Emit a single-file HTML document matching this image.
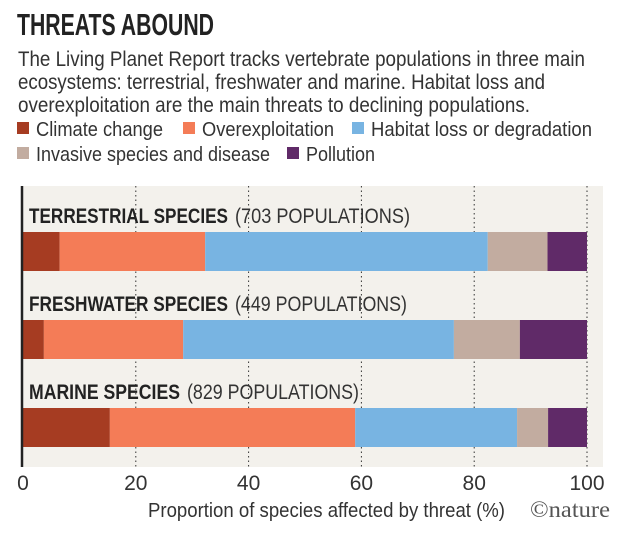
<!DOCTYPE html>
<html><head><meta charset="utf-8"><style>
html,body{margin:0;padding:0;background:#fff;}
svg{display:block;font-family:"Liberation Sans Narrow","Liberation Sans",sans-serif;}
</style></head><body>
<svg id="chart" width="630" height="535" viewBox="0 0 630 535">
<text x="17" y="35" font-size="31" font-weight="bold" fill="#222" textLength="197" lengthAdjust="spacingAndGlyphs">THREATS ABOUND</text>
<g font-size="21" fill="#333">
<text x="18" y="66" textLength="567" lengthAdjust="spacingAndGlyphs">The Living Planet Report tracks vertebrate populations in three main</text>
<text x="18" y="89" textLength="527" lengthAdjust="spacingAndGlyphs">ecosystems: terrestrial, freshwater and marine. Habitat loss and</text>
<text x="18" y="112" textLength="512" lengthAdjust="spacingAndGlyphs">overexploitation are the main threats to declining populations.</text>
</g>
<g id="legend" font-size="20.5" fill="#333"></g>
<rect x="23" y="186" width="580" height="281" fill="#f3f1ec"/>
<g id="grid"></g>
<g id="bars"></g>
<line x1="22" y1="186" x2="22" y2="467" stroke="#222" stroke-width="2.5"/>
<g id="ticks" font-size="21" fill="#333"></g>
<text x="148" y="517" font-size="20.5" fill="#333" textLength="357" lengthAdjust="spacingAndGlyphs">Proportion of species affected by threat (%)</text>
<text x="530" y="517" font-size="23" fill="#555" font-family="Liberation Serif,serif" textLength="80" lengthAdjust="spacingAndGlyphs">©nature</text>
</svg>
<script>
const categories = ["TERRESTRIAL SPECIES", "FRESHWATER SPECIES", "MARINE SPECIES"];
const populations = ["(703 POPULATIONS)", "(449 POPULATIONS)", "(829 POPULATIONS)"];
const threats = ["Climate change", "Overexploitation", "Habitat loss or degradation", "Invasive species and disease", "Pollution"];
const climateChange = [6.5, 3.7, 15.4];
const overexploitation = [25.8, 24.7, 43.5];
const habitatLoss = [50.1, 48.0, 28.7];
const invasive = [10.6, 11.7, 5.5];
const pollution = [7.0, 11.9, 6.9];
const tickValues = [0, 20, 40, 60, 80, 100];

const NS = "http://www.w3.org/2000/svg";
const colors = ["#a63c22", "#f47c57", "#78b4e2", "#c2aca0", "#602a68"];
const x0 = 23, x1 = 587;
const xs = v => x0 + (x1 - x0) * v / 100;
function mk(tag, attrs, parent) { const e = document.createElementNS(NS, tag); for (const k in attrs) e.setAttribute(k, attrs[k]); parent.appendChild(e); return e; }

const leg = document.getElementById('legend');
const legPos = [[17,136],[183,136],[352,136],[17,161],[287,161]];
const legW = [127, 132, 221, 234, 69];
threats.forEach((t, i) => {
  const g = mk('g', {}, leg);
  
  
  mk('rect', {x: legPos[i][0], y: legPos[i][1] - 14, width: 12, height: 12, fill: colors[i]}, g);
  const tx = mk('text', {x: legPos[i][0] + 19, y: legPos[i][1], textLength: legW[i], lengthAdjust: 'spacingAndGlyphs'}, g);
  tx.textContent = t;
});

const grid = document.getElementById('grid'), ticks = document.getElementById('ticks');
tickValues.forEach(v => {
  if (v > 0) {
    const l = mk('line', {x1: xs(v), x2: xs(v), y1: 186, y2: 467, stroke: '#333', 'stroke-width': 1, 'stroke-dasharray': '1.5,3'}, grid);
    
    
  }
  const t = mk('text', {x: xs(v), y: 490, 'text-anchor': 'middle'}, ticks);
  
  
  t.textContent = v;
});

const bars = document.getElementById('bars');
const series = [climateChange, overexploitation, habitatLoss, invasive, pollution];
const boldW = [199, 199, 151];
const popW = [175, 172, 172];
categories.forEach((c, i) => {
  const top = 232 + i * 88;
  const b = mk('text', {x: 29, y: top - 9, 'font-size': 21, 'font-weight': 'bold', fill: '#222', textLength: boldW[i], lengthAdjust: 'spacingAndGlyphs'}, bars);
  
  
  b.textContent = c;
  const p = mk('text', {x: 29 + boldW[i] + 7, y: top - 9, 'font-size': 21, fill: '#333', textLength: popW[i], lengthAdjust: 'spacingAndGlyphs'}, bars);
  
  
  p.textContent = populations[i];
  let acc = 0;
  series.forEach((s, j) => {
    const r = mk('rect', {x: xs(acc), y: top, width: xs(acc + s[i]) - xs(acc), height: 39, fill: colors[j]}, bars);
    
    
    acc += s[i];
  });
});
</script>
</body></html>
